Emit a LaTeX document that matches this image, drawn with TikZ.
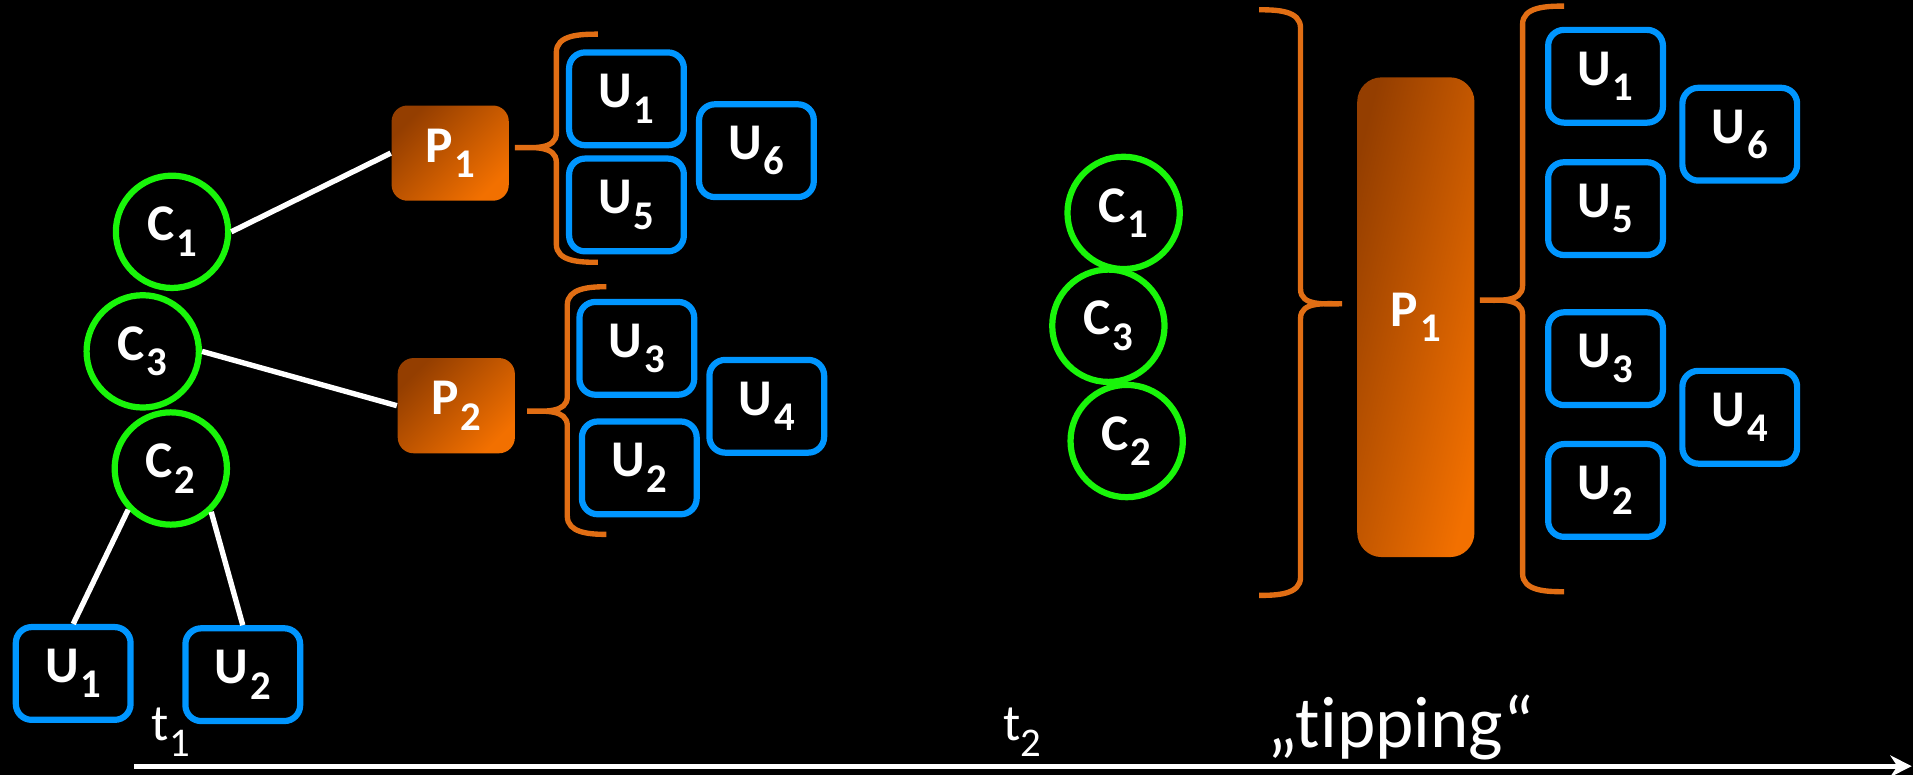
\documentclass[tikz,border=0pt]{standalone}
\usepackage{fontspec}
\setmainfont[Ligatures=NoCommon]{Carlito}
\usetikzlibrary{arrows.meta}

\definecolor{cgreen}{RGB}{25,245,10}
\definecolor{ublue}{RGB}{0,150,255}
\definecolor{bracecol}{RGB}{225,110,20}
\definecolor{pdark}{RGB}{148,62,0}
\definecolor{plight}{RGB}{242,112,0}

\newcommand\lblfont{\bfseries\fontsize{12}{14}\selectfont}
\newcommand\lsub[1]{\kern0.4pt\raisebox{-0.3em}{\fontsize{9.5}{11}\selectfont #1}}
\newcommand\tsub[1]{\raisebox{-0.3em}{\fontsize{9.5}{11}\selectfont #1}}

\tikzset{
  cnode/.style={circle, draw=cgreen, line width=1.45pt, minimum size=0.92cm,
    inner sep=0pt, text=white, font=\lblfont},
  unode/.style={rectangle, rounded corners=0.13cm, draw=ublue, line width=1.45pt,
    minimum width=0.94cm, minimum height=0.76cm, inner sep=0pt, text=white, font=\lblfont},
  pnode/.style={rectangle, rounded corners=0.13cm, top color=pdark, bottom color=plight,
    shading angle=45, minimum width=0.96cm, minimum height=0.78cm, inner sep=0pt,
    text=white, font=\lblfont},
  link/.style={draw=white, line width=1.25pt},
  bracepath/.style={draw=bracecol, line width=1.25pt},
  timelbl/.style={text=white, inner sep=0pt, font=\fontsize{12}{14}\selectfont},
}

\begin{document}
\begin{tikzpicture}[x=0.01cm, y=0.01cm]
  % canvas
  \fill[black] (0,0) rectangle (1568,635);
  \useasboundingbox (0,0) rectangle (1568,635);

  % ---- time t1: tree of clusters ----
  \node[cnode] (C1) at (141,445) {C\lsub{1}};
  \node[cnode] (C3) at (117,347) {C\lsub{3}};
  \node[cnode] (C2) at (140,251) {C\lsub{2}};

  \node[pnode] (P1) at (369,509.5) {P\lsub{1}};
  \node[pnode] (P2) at (374,302.5) {P\lsub{2}};

  \node[unode] (U1a) at (513.5,554) {U\lsub{1}};
  \node[unode] (U5a) at (513.5,467) {U\lsub{5}};
  \node[unode] (U6a) at (620,511.5) {U\lsub{6}};
  \node[unode] (U3a) at (522,349.5) {U\lsub{3}};
  \node[unode] (U2a) at (524,251.5) {U\lsub{2}};
  \node[unode] (U4a) at (628.5,302) {U\lsub{4}};

  \node[unode] (U1b) at (60,83) {U\lsub{1}};
  \node[unode] (U2b) at (199,82) {U\lsub{2}};

  \draw[link] (C1.east) -- (P1.west);
  \draw[link] (C3.east) -- (P2.west);
  \draw[link] (C2.224) -- (U1b.north);
  \draw[link] (C2.313) -- (U2b.north);

  % braces grouping the users of P1 and P2
  \draw[bracepath] (490,607) to[out=180,in=90] (456,592) -- (456,526)
    to[out=-90,in=0] (422,514) to[out=0,in=90] (456,502) -- (456,435)
    to[out=-90,in=180] (490,420);
  \draw[bracepath] (497,400) to[out=180,in=90] (465,385) -- (465,310)
    to[out=-90,in=0] (432,298) to[out=0,in=90] (465,286) -- (465,212)
    to[out=-90,in=180] (497,197);

  % ---- time t2: merged cluster ----
  \node[cnode] (C1r) at (921,460.5) {C\lsub{1}};
  \node[cnode] (C3r) at (908.5,368) {C\lsub{3}};
  \node[cnode] (C2r) at (923.5,273.5) {C\lsub{2}};

  \node[pnode, minimum height=3.93cm, rounded corners=0.2cm, shading angle=76]
    (P1r) at (1160.5,375) {P\lsub{1}};

  \node[unode] (U1r) at (1316,572.5) {U\lsub{1}};
  \node[unode] (U5r) at (1316,464) {U\lsub{5}};
  \node[unode] (U6r) at (1426,525) {U\lsub{6}};
  \node[unode] (U3r) at (1316,341) {U\lsub{3}};
  \node[unode] (U2r) at (1316,233) {U\lsub{2}};
  \node[unode] (U4r) at (1426,293) {U\lsub{4}};

  \draw[bracepath] (1032,627) to[out=0,in=90] (1066,612) -- (1066,398)
    to[out=-90,in=180] (1100,386) to[out=180,in=90] (1066,374) -- (1066,162)
    to[out=-90,in=0] (1032,147);
  \draw[bracepath] (1282,630) to[out=180,in=90] (1248,615) -- (1248,401)
    to[out=-90,in=0] (1213,389) to[out=0,in=90] (1248,377) -- (1248,165)
    to[out=-90,in=180] (1282,150);

  % ---- time axis ----
  \coordinate (ax0) at (110,7);
  \coordinate (ax1) at (1567,7);
  \draw[white, line width=1.25pt, -{Stealth[length=5pt,width=5pt]}] (ax0) -- (ax1);

  \node[timelbl] (t1) at (140,35) {t\tsub{1}};
  \node[timelbl] (t2) at (838,35) {t\tsub{2}};
  \node[timelbl, font=\fontsize{17}{20}\selectfont] (tip) at (1148,39) {„tipping“};
\end{tikzpicture}
\end{document}
